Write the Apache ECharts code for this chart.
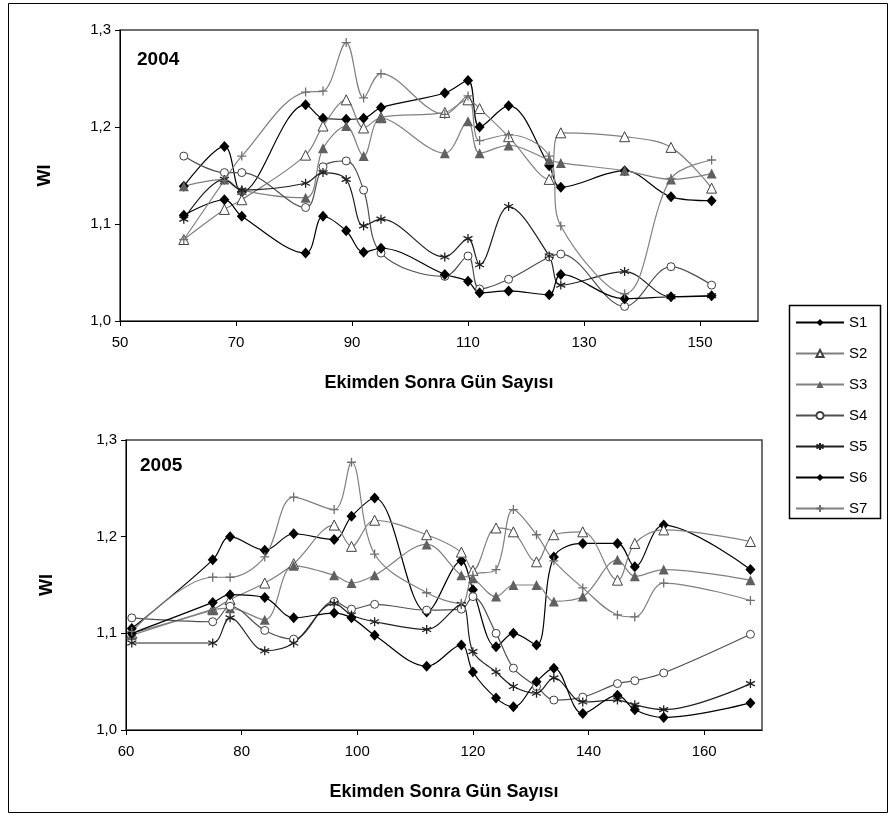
<!DOCTYPE html>
<html>
<head>
<meta charset="utf-8">
<script src="https://cdn.jsdelivr.net/npm/echarts/dist/echarts.min.js"></script>
<style>
  html, body { margin: 0; padding: 0; background: #fff; }
  #chart { width: 896px; height: 818px; }
</style>
</head>
<body>
<div id="chart"></div>
<script>
// 2004 - gün sayısı
var days2004 = [61, 68, 71, 82, 85, 89, 92, 95, 106, 110, 112, 117, 124, 126, 137, 145, 152];
var s1_2004 = [1.139, 1.180, 1.133, 1.223, 1.209, 1.208, 1.209, 1.220, 1.235, 1.248, 1.200, 1.222, 1.160, 1.138, 1.155, 1.128, 1.124];
var s2_2004 = [1.084, 1.115, 1.125, 1.171, 1.201, 1.228, 1.199, 1.210, 1.215, 1.228, 1.219, 1.190, 1.146, 1.194, 1.190, 1.179, 1.137];
var s3_2004 = [1.139, 1.146, 1.135, 1.127, 1.178, 1.201, 1.170, 1.209, 1.173, 1.206, 1.173, 1.181, 1.166, 1.163, 1.155, 1.146, 1.152];
var s4_2004 = [1.170, 1.153, 1.153, 1.117, 1.159, 1.165, 1.135, 1.070, 1.046, 1.067, 1.033, 1.043, 1.066, 1.069, 1.015, 1.056, 1.037];
var s5_2004 = [1.105, 1.146, 1.135, 1.142, 1.153, 1.146, 1.098, 1.105, 1.066, 1.085, 1.058, 1.118, 1.067, 1.037, 1.051, 1.025, 1.026];
var s6_2004 = [1.109, 1.125, 1.108, 1.070, 1.108, 1.093, 1.071, 1.075, 1.048, 1.041, 1.029, 1.031, 1.027, 1.048, 1.023, 1.025, 1.026];
var s7_2004 = [1.084, 1.145, 1.170, 1.236, 1.237, 1.287, 1.230, 1.255, 1.213, 1.232, 1.186, 1.192, 1.170, 1.098, 1.028, 1.147, 1.166];

// 2005
var days2005 = [61, 75, 78, 84, 89, 96, 99, 103, 112, 118, 120, 124, 127, 131, 134, 139, 145, 148, 153, 168];
var s1_2005 = [1.105, 1.176, 1.200, 1.186, 1.203, 1.197, 1.221, 1.240, 1.122, 1.175, 1.145, 1.086, 1.100, 1.088, 1.179, 1.193, 1.193, 1.169, 1.212, 1.166];
var s2_2005 = [1.100, 1.125, 1.135, 1.152, 1.172, 1.212, 1.190, 1.217, 1.202, 1.184, 1.165, 1.209, 1.205, 1.174, 1.202, 1.205, 1.155, 1.193, 1.207, 1.195];
var s3_2005 = [1.098, 1.124, 1.126, 1.114, 1.170, 1.160, 1.152, 1.160, 1.192, 1.160, 1.157, 1.138, 1.150, 1.150, 1.133, 1.138, 1.176, 1.159, 1.166, 1.155];
var s4_2005 = [1.116, 1.112, 1.128, 1.103, 1.094, 1.133, 1.125, 1.130, 1.124, 1.125, 1.138, 1.100, 1.064, 1.045, 1.031, 1.034, 1.048, 1.051, 1.059, 1.099];
var s5_2005 = [1.090, 1.090, 1.116, 1.082, 1.090, 1.131, 1.119, 1.112, 1.104, 1.130, 1.081, 1.060, 1.045, 1.038, 1.054, 1.029, 1.031, 1.026, 1.021, 1.048];
var s6_2005 = [1.100, 1.132, 1.140, 1.137, 1.116, 1.121, 1.116, 1.098, 1.066, 1.088, 1.060, 1.033, 1.024, 1.050, 1.064, 1.017, 1.036, 1.021, 1.013, 1.028];
var s7_2005 = [1.102, 1.158, 1.158, 1.179, 1.241, 1.228, 1.277, 1.182, 1.142, 1.131, 1.160, 1.166, 1.228, 1.202, 1.175, 1.147, 1.119, 1.117, 1.152, 1.134];

var seriesNames = ['S1', 'S2', 'S3', 'S4', 'S5', 'S6', 'S7'];

var FONT = '"Liberation Sans", Arial, sans-serif';

// işaretler
var STAR = 'path://M5,0 L5,10 M0.7,2.5 L9.3,7.5 M9.3,2.5 L0.7,7.5';
var PLUS = 'path://M5,0 L5,10 M0,5 L10,5';

var styles = {
    S1: { symbol: 'diamond', size: [10, 11], line: '#000', item: { color: '#000' } },
    S2: { symbol: 'triangle', size: 10, line: '#808080', item: { color: '#fff', borderColor: '#404040', borderWidth: 1 } },
    S3: { symbol: 'triangle', size: 10, line: '#808080', item: { color: '#606060' } },
    S4: { symbol: 'circle', size: 8, line: '#505050', item: { color: '#fff', borderColor: '#404040', borderWidth: 1 } },
    S5: { symbol: STAR, size: 9, line: '#202020', item: { color: 'transparent', borderColor: '#202020', borderWidth: 1.3 } },
    S6: { symbol: 'diamond', size: [10, 11], line: '#000', item: { color: '#000' } },
    S7: { symbol: PLUS, size: 9, line: '#808080', item: { color: 'transparent', borderColor: '#707070', borderWidth: 1.3 } }
};

function pairs(xs, ys) {
    var out = [];
    for (var i = 0; i < xs.length; i++) {
        out.push([xs[i], ys[i]]);
    }
    return out;
}

function makeSeries(name, xs, ys, idx) {
    var st = styles[name];
    return {
        name: name,
        type: 'line',
        xAxisIndex: idx,
        yAxisIndex: idx,
        data: pairs(xs, ys),
        smooth: 0.35,
        symbol: st.symbol,
        symbolSize: st.size,
        showAllSymbol: true,
        lineStyle: { color: st.line, width: 1.2 },
        itemStyle: st.item,
        emphasis: { disabled: true },
        animation: false
    };
}

function commaLabel(v) {
    return v.toFixed(1).replace('.', ',');
}

function xAxisOpt(idx, min, max) {
    return {
        type: 'value',
        gridIndex: idx,
        min: min,
        max: max,
        interval: 20,
        name: 'Ekimden Sonra Gün Sayısı',
        nameLocation: 'middle',
        nameGap: 53,
        nameTextStyle: { fontFamily: FONT, fontSize: 18, fontWeight: 'bold', color: '#000' },
        axisLine: { show: true, lineStyle: { color: '#000', width: 1 } },
        axisTick: { show: true, inside: false, length: 5, lineStyle: { color: '#000' } },
        axisLabel: { showMaxLabel: false, margin: 14, fontFamily: FONT, fontSize: 15, color: '#000' },
        splitLine: { show: false }
    };
}

function yAxisOpt(idx, gap) {
    return {
        type: 'value',
        gridIndex: idx,
        min: 1.0,
        max: 1.3,
        interval: 0.1,
        name: 'WI',
        nameLocation: 'middle',
        nameRotate: 90,
        nameGap: gap,
        nameTextStyle: { fontFamily: FONT, fontSize: 18, fontWeight: 'bold', color: '#000' },
        axisLine: { show: true, lineStyle: { color: '#000', width: 1 } },
        axisTick: { show: true, length: 5, lineStyle: { color: '#000' } },
        axisLabel: { formatter: commaLabel, margin: 9, fontFamily: FONT, fontSize: 15, color: '#000' },
        splitLine: { show: false }
    };
}

var allSeries = [];
var data2004 = [s1_2004, s2_2004, s3_2004, s4_2004, s5_2004, s6_2004, s7_2004];
var data2005 = [s1_2005, s2_2005, s3_2005, s4_2005, s5_2005, s6_2005, s7_2005];
for (var i = 0; i < seriesNames.length; i++) {
    allSeries.push(makeSeries(seriesNames[i], days2004, data2004[i], 0));
}
for (var j = 0; j < seriesNames.length; j++) {
    allSeries.push(makeSeries(seriesNames[j], days2005, data2005[j], 1));
}

var myChart = echarts.init(document.getElementById('chart'), null, { renderer: 'canvas' });

var option = {
    backgroundColor: '#fff',
    animation: false,
    grid: [
        { left: 120, top: 30, width: 638, height: 291, show: true, borderColor: '#404040', borderWidth: 1.5, backgroundColor: 'transparent' },
        { left: 126, top: 440, width: 636, height: 290, show: true, borderColor: '#404040', borderWidth: 1.5, backgroundColor: 'transparent' }
    ],
    xAxis: [xAxisOpt(0, 50, 160), xAxisOpt(1, 60, 170)],
    yAxis: [yAxisOpt(0, 66), yAxisOpt(1, 70)],
    legend: {
        data: seriesNames,
        orient: 'vertical',
        left: 795,
        top: 315,
        itemWidth: 48,
        itemHeight: 9,
        itemGap: 16,
        padding: 0,
        textStyle: { fontFamily: FONT, fontSize: 15, color: '#000', lineHeight: 14 }
    },
    graphic: [
        // dış çerçeve
        { type: 'rect', shape: { x: 8.5, y: 3.5, width: 879, height: 809 }, style: { fill: 'none', stroke: '#000', lineWidth: 1 }, silent: true },
        // gösterge kutusu
        { type: 'rect', shape: { x: 789.5, y: 305.5, width: 91, height: 213 }, style: { fill: 'none', stroke: '#000', lineWidth: 1.5 }, silent: true },
        { type: 'text', left: 137, top: 50, style: { text: '2004', font: 'bold 19px "Liberation Sans", Arial, sans-serif', fill: '#000' } },
        { type: 'text', left: 140, top: 456, style: { text: '2005', font: 'bold 19px "Liberation Sans", Arial, sans-serif', fill: '#000' } }
    ],
    series: allSeries
};

myChart.setOption(option);
</script>
</body>
</html>
